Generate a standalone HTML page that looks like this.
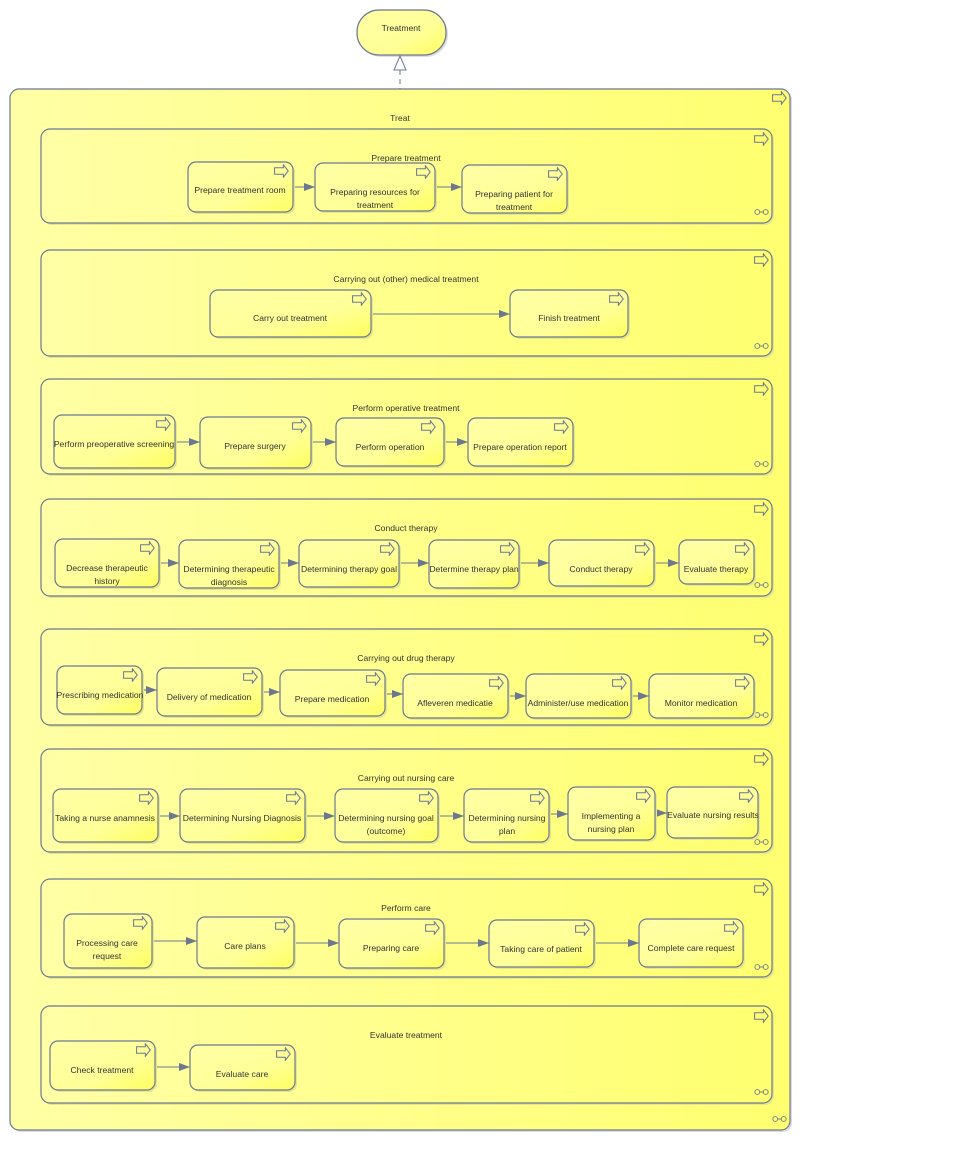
<!DOCTYPE html>
<html><head><meta charset="utf-8"><style>
html,body{margin:0;padding:0;background:#fff;}
svg{display:block;}
text{font-family:"Liberation Sans",sans-serif;font-size:8.6px;fill:#333;text-anchor:middle;}
.b{stroke:#6b7890;stroke-width:1.2;}
.c{stroke:#6b7890;stroke-width:1.1;fill:none;}
.i{fill:none;stroke:#6b7890;stroke-width:1.2;}
</style></head><body>
<svg width="955" height="1169" viewBox="0 0 955 1169" xmlns="http://www.w3.org/2000/svg">
<defs>
<linearGradient id="g" x1="0" y1="0" x2="1" y2="0"><stop offset="0" stop-color="#ffffa6"/><stop offset="1" stop-color="#ffff70"/></linearGradient>
<linearGradient id="n" x1="0" y1="0" x2="1" y2="1"><stop offset="0" stop-color="#ffffa6"/><stop offset="0.6" stop-color="#ffff98"/><stop offset="1" stop-color="#ffff60"/></linearGradient>
<marker id="a" markerWidth="12" markerHeight="10" refX="11" refY="4" orient="auto" markerUnits="userSpaceOnUse"><path d="M0,0 L11,4 L0,8 Z" fill="#6b7890"/></marker>
<symbol id="p" viewBox="0 0 16 15"><path d="M0.6,4 H10 V0.8 L15.2,7.5 L10,14.2 V11 H0.6 Z" fill="none" stroke="#6b7890" stroke-width="1.1"/></symbol>
<symbol id="s" viewBox="0 0 16 8"><circle cx="3.5" cy="4" r="2.6" fill="none" stroke="#6b7890" stroke-width="1"/><circle cx="12.5" cy="4" r="2.6" fill="none" stroke="#6b7890" stroke-width="1"/><line x1="6" y1="4" x2="10" y2="4" stroke="#6b7890" stroke-width="1"/></symbol>
</defs>

<!-- Treatment -->
<rect x="359" y="12" width="89" height="45" rx="22" fill="#ddd"/>
<rect x="357" y="10" width="89" height="45" rx="22" fill="url(#n)" class="b"/>
<text x="401" y="31">Treatment</text>
<line x1="400" y1="70" x2="400" y2="89" stroke="#6b7890" stroke-width="1" stroke-dasharray="5,4"/>
<path d="M394,70 L400,56 L406,70 Z" fill="#fff" stroke="#6b7890" stroke-width="1"/>

<!-- Outer -->
<rect x="12" y="91" width="780" height="1041" rx="9" fill="#ddd"/>
<rect x="10" y="89" width="780" height="1041" rx="9" fill="url(#g)" class="b"/>
<text x="400" y="121">Treat</text>
<use href="#p" x="772" y="91" width="15" height="14"/>
<use href="#s" x="772" y="1115" width="15" height="8"/>

<!-- Groups -->
<g>
<rect x="43" y="131" width="731" height="94" rx="9" fill="#e6e68a"/>
<rect x="41" y="129" width="731" height="94" rx="9" fill="url(#g)" class="b"/>
<text x="406" y="161">Prepare treatment</text>
<use href="#p" x="754" y="132" width="15" height="14"/><use href="#s" x="754" y="208" width="15" height="8"/>

<rect x="43" y="252" width="731" height="106" rx="9" fill="#e6e68a"/>
<rect x="41" y="250" width="731" height="106" rx="9" fill="url(#g)" class="b"/>
<text x="406" y="282">Carrying out (other) medical treatment</text>
<use href="#p" x="754" y="253" width="15" height="14"/><use href="#s" x="754" y="342" width="15" height="8"/>

<rect x="43" y="381" width="731" height="95" rx="9" fill="#e6e68a"/>
<rect x="41" y="379" width="731" height="95" rx="9" fill="url(#g)" class="b"/>
<text x="406" y="411">Perform operative treatment</text>
<use href="#p" x="754" y="382" width="15" height="14"/><use href="#s" x="754" y="460" width="15" height="8"/>

<rect x="43" y="501" width="731" height="97" rx="9" fill="#e6e68a"/>
<rect x="41" y="499" width="731" height="97" rx="9" fill="url(#g)" class="b"/>
<text x="406" y="531">Conduct therapy</text>
<use href="#p" x="754" y="502" width="15" height="14"/><use href="#s" x="754" y="581" width="15" height="8"/>

<rect x="43" y="631" width="731" height="96" rx="9" fill="#e6e68a"/>
<rect x="41" y="629" width="731" height="96" rx="9" fill="url(#g)" class="b"/>
<text x="406" y="661">Carrying out drug therapy</text>
<use href="#p" x="754" y="632" width="15" height="14"/><use href="#s" x="754" y="711" width="15" height="8"/>

<rect x="43" y="751" width="731" height="103" rx="9" fill="#e6e68a"/>
<rect x="41" y="749" width="731" height="103" rx="9" fill="url(#g)" class="b"/>
<text x="406" y="781">Carrying out nursing care</text>
<use href="#p" x="754" y="752" width="15" height="14"/><use href="#s" x="754" y="838" width="15" height="8"/>

<rect x="43" y="881" width="731" height="98" rx="9" fill="#e6e68a"/>
<rect x="41" y="879" width="731" height="98" rx="9" fill="url(#g)" class="b"/>
<text x="406" y="911">Perform care</text>
<use href="#p" x="754" y="882" width="15" height="14"/><use href="#s" x="754" y="963" width="15" height="8"/>

<rect x="43" y="1008" width="731" height="97" rx="9" fill="#e6e68a"/>
<rect x="41" y="1006" width="731" height="97" rx="9" fill="url(#g)" class="b"/>
<text x="406" y="1038">Evaluate treatment</text>
<use href="#p" x="754" y="1009" width="15" height="14"/><use href="#s" x="754" y="1088" width="15" height="8"/>
</g>

<!-- Connectors -->
<g class="c">
<line x1="293" y1="187" x2="315" y2="187" marker-end="url(#a)"/>
<line x1="435" y1="187" x2="462" y2="187" marker-end="url(#a)"/>
<line x1="371" y1="314" x2="510" y2="314" marker-end="url(#a)"/>
<line x1="175" y1="442" x2="200" y2="442" marker-end="url(#a)"/>
<line x1="311" y1="442" x2="336" y2="442" marker-end="url(#a)"/>
<line x1="444" y1="442" x2="468" y2="442" marker-end="url(#a)"/>
<line x1="159" y1="563" x2="179" y2="563" marker-end="url(#a)"/>
<line x1="279" y1="563" x2="299" y2="563" marker-end="url(#a)"/>
<line x1="399" y1="563" x2="429" y2="563" marker-end="url(#a)"/>
<line x1="519" y1="563" x2="549" y2="563" marker-end="url(#a)"/>
<line x1="654" y1="563" x2="679" y2="563" marker-end="url(#a)"/>
<line x1="142" y1="690" x2="157" y2="690" marker-end="url(#a)"/>
<line x1="262" y1="692" x2="280" y2="692" marker-end="url(#a)"/>
<line x1="385" y1="694" x2="403" y2="694" marker-end="url(#a)"/>
<line x1="508" y1="696" x2="526" y2="696" marker-end="url(#a)"/>
<line x1="631" y1="696" x2="649" y2="696" marker-end="url(#a)"/>
<line x1="158" y1="816" x2="180" y2="816" marker-end="url(#a)"/>
<line x1="305" y1="816" x2="335" y2="816" marker-end="url(#a)"/>
<line x1="438" y1="816" x2="464" y2="816" marker-end="url(#a)"/>
<line x1="549" y1="814" x2="568" y2="814" marker-end="url(#a)"/>
<line x1="655" y1="813" x2="667" y2="813" marker-end="url(#a)"/>
<line x1="152" y1="941" x2="197" y2="941" marker-end="url(#a)"/>
<line x1="294" y1="943" x2="339" y2="943" marker-end="url(#a)"/>
<line x1="444" y1="943" x2="489" y2="943" marker-end="url(#a)"/>
<line x1="594" y1="943" x2="639" y2="943" marker-end="url(#a)"/>
<line x1="155" y1="1067" x2="190" y2="1067" marker-end="url(#a)"/>
</g>

<!-- Nodes -->
<g id="nodes">
<!-- row1 -->
<rect x="190" y="164" width="105" height="50" rx="8" fill="#e6e68a"/><rect x="188" y="162" width="105" height="50" rx="8" fill="url(#n)" class="b"/><use href="#p" x="274" y="164" width="15" height="14"/>
<text x="240" y="193">Prepare treatment room</text>
<rect x="317" y="165" width="120" height="48" rx="8" fill="#e6e68a"/><rect x="315" y="163" width="120" height="48" rx="8" fill="url(#n)" class="b"/><use href="#p" x="416" y="165" width="15" height="14"/>
<text x="375" y="195">Preparing resources for</text><text x="375" y="208">treatment</text>
<rect x="464" y="167" width="105" height="48" rx="8" fill="#e6e68a"/><rect x="462" y="165" width="105" height="48" rx="8" fill="url(#n)" class="b"/><use href="#p" x="548" y="167" width="15" height="14"/>
<text x="514" y="197">Preparing patient for</text><text x="514" y="210">treatment</text>
<!-- row2 -->
<rect x="212" y="292" width="161" height="47" rx="8" fill="#e6e68a"/><rect x="210" y="290" width="161" height="47" rx="8" fill="url(#n)" class="b"/><use href="#p" x="352" y="292" width="15" height="14"/>
<text x="290" y="321">Carry out treatment</text>
<rect x="512" y="292" width="118" height="47" rx="8" fill="#e6e68a"/><rect x="510" y="290" width="118" height="47" rx="8" fill="url(#n)" class="b"/><use href="#p" x="609" y="292" width="15" height="14"/>
<text x="569" y="321">Finish treatment</text>
<!-- row3 -->
<rect x="56" y="417" width="121" height="53" rx="8" fill="#e6e68a"/><rect x="54" y="415" width="121" height="53" rx="8" fill="url(#n)" class="b"/><use href="#p" x="156" y="417" width="15" height="14"/>
<text x="114" y="447">Perform preoperative screening</text>
<rect x="202" y="419" width="111" height="51" rx="8" fill="#e6e68a"/><rect x="200" y="417" width="111" height="51" rx="8" fill="url(#n)" class="b"/><use href="#p" x="292" y="419" width="15" height="14"/>
<text x="255" y="449">Prepare surgery</text>
<rect x="338" y="420" width="108" height="48" rx="8" fill="#e6e68a"/><rect x="336" y="418" width="108" height="48" rx="8" fill="url(#n)" class="b"/><use href="#p" x="421" y="420" width="15" height="14"/>
<text x="390" y="450">Perform operation</text>
<rect x="470" y="420" width="105" height="48" rx="8" fill="#e6e68a"/><rect x="468" y="418" width="105" height="48" rx="8" fill="url(#n)" class="b"/><use href="#p" x="554" y="420" width="15" height="14"/>
<text x="520" y="450">Prepare operation report</text>
<!-- row4 -->
<rect x="57" y="541" width="104" height="48" rx="8" fill="#e6e68a"/><rect x="55" y="539" width="104" height="48" rx="8" fill="url(#n)" class="b"/><use href="#p" x="140" y="541" width="15" height="14"/>
<text x="107" y="571">Decrease therapeutic</text><text x="107" y="584">history</text>
<rect x="181" y="542" width="100" height="48" rx="8" fill="#e6e68a"/><rect x="179" y="540" width="100" height="48" rx="8" fill="url(#n)" class="b"/><use href="#p" x="260" y="542" width="15" height="14"/>
<text x="229" y="572">Determining therapeutic</text><text x="229" y="585">diagnosis</text>
<rect x="301" y="542" width="100" height="47" rx="8" fill="#e6e68a"/><rect x="299" y="540" width="100" height="47" rx="8" fill="url(#n)" class="b"/><use href="#p" x="380" y="542" width="15" height="14"/>
<text x="349" y="572">Determining therapy goal</text>
<rect x="431" y="542" width="90" height="48" rx="8" fill="#e6e68a"/><rect x="429" y="540" width="90" height="48" rx="8" fill="url(#n)" class="b"/><use href="#p" x="500" y="542" width="15" height="14"/>
<text x="474" y="572">Determine therapy plan</text>
<rect x="551" y="542" width="105" height="46" rx="8" fill="#e6e68a"/><rect x="549" y="540" width="105" height="46" rx="8" fill="url(#n)" class="b"/><use href="#p" x="635" y="542" width="15" height="14"/>
<text x="601" y="572">Conduct therapy</text>
<rect x="681" y="542" width="75" height="44" rx="8" fill="#e6e68a"/><rect x="679" y="540" width="75" height="44" rx="8" fill="url(#n)" class="b"/><use href="#p" x="735" y="542" width="15" height="14"/>
<text x="716" y="572">Evaluate therapy</text>
<!-- row5 -->
<rect x="59" y="668" width="85" height="48" rx="8" fill="#e6e68a"/><rect x="57" y="666" width="85" height="48" rx="8" fill="url(#n)" class="b"/><use href="#p" x="123" y="668" width="15" height="14"/>
<text x="100" y="698">Prescribing medication</text>
<rect x="159" y="670" width="105" height="48" rx="8" fill="#e6e68a"/><rect x="157" y="668" width="105" height="48" rx="8" fill="url(#n)" class="b"/><use href="#p" x="243" y="670" width="15" height="14"/>
<text x="209" y="700">Delivery of medication</text>
<rect x="282" y="672" width="105" height="46" rx="8" fill="#e6e68a"/><rect x="280" y="670" width="105" height="46" rx="8" fill="url(#n)" class="b"/><use href="#p" x="366" y="672" width="15" height="14"/>
<text x="332" y="702">Prepare medication</text>
<rect x="405" y="676" width="105" height="44" rx="8" fill="#e6e68a"/><rect x="403" y="674" width="105" height="44" rx="8" fill="url(#n)" class="b"/><use href="#p" x="489" y="676" width="15" height="14"/>
<text x="455" y="706">Afleveren medicatie</text>
<rect x="528" y="676" width="105" height="44" rx="8" fill="#e6e68a"/><rect x="526" y="674" width="105" height="44" rx="8" fill="url(#n)" class="b"/><use href="#p" x="612" y="676" width="15" height="14"/>
<text x="578" y="706">Administer/use medication</text>
<rect x="651" y="676" width="105" height="44" rx="8" fill="#e6e68a"/><rect x="649" y="674" width="105" height="44" rx="8" fill="url(#n)" class="b"/><use href="#p" x="735" y="676" width="15" height="14"/>
<text x="701" y="706">Monitor medication</text>
<!-- row6 -->
<rect x="55" y="791" width="105" height="53" rx="8" fill="#e6e68a"/><rect x="53" y="789" width="105" height="53" rx="8" fill="url(#n)" class="b"/><use href="#p" x="139" y="791" width="15" height="14"/>
<text x="105" y="821">Taking a nurse anamnesis</text>
<rect x="182" y="791" width="125" height="53" rx="8" fill="#e6e68a"/><rect x="180" y="789" width="125" height="53" rx="8" fill="url(#n)" class="b"/><use href="#p" x="286" y="791" width="15" height="14"/>
<text x="242" y="821">Determining Nursing Diagnosis</text>
<rect x="337" y="791" width="103" height="53" rx="8" fill="#e6e68a"/><rect x="335" y="789" width="103" height="53" rx="8" fill="url(#n)" class="b"/><use href="#p" x="419" y="791" width="15" height="14"/>
<text x="386" y="821">Determining nursing goal</text><text x="386" y="834">(outcome)</text>
<rect x="466" y="791" width="85" height="53" rx="8" fill="#e6e68a"/><rect x="464" y="789" width="85" height="53" rx="8" fill="url(#n)" class="b"/><use href="#p" x="530" y="791" width="15" height="14"/>
<text x="507" y="821">Determining nursing</text><text x="507" y="834">plan</text>
<rect x="570" y="789" width="87" height="53" rx="8" fill="#e6e68a"/><rect x="568" y="787" width="87" height="53" rx="8" fill="url(#n)" class="b"/><use href="#p" x="636" y="789" width="15" height="14"/>
<text x="611" y="819">Implementing a</text><text x="611" y="832">nursing plan</text>
<rect x="669" y="789" width="91" height="51" rx="8" fill="#e6e68a"/><rect x="667" y="787" width="91" height="51" rx="8" fill="url(#n)" class="b"/><use href="#p" x="739" y="789" width="15" height="14"/>
<text x="713" y="818">Evaluate nursing results</text>
<!-- row7 -->
<rect x="66" y="916" width="88" height="54" rx="8" fill="#e6e68a"/><rect x="64" y="914" width="88" height="54" rx="8" fill="url(#n)" class="b"/><use href="#p" x="133" y="916" width="15" height="14"/>
<text x="107" y="946">Processing care</text><text x="107" y="959">request</text>
<rect x="199" y="919" width="97" height="51" rx="8" fill="#e6e68a"/><rect x="197" y="917" width="97" height="51" rx="8" fill="url(#n)" class="b"/><use href="#p" x="275" y="919" width="15" height="14"/>
<text x="245" y="949">Care plans</text>
<rect x="341" y="921" width="105" height="49" rx="8" fill="#e6e68a"/><rect x="339" y="919" width="105" height="49" rx="8" fill="url(#n)" class="b"/><use href="#p" x="425" y="921" width="15" height="14"/>
<text x="391" y="951">Preparing care</text>
<rect x="491" y="922" width="105" height="47" rx="8" fill="#e6e68a"/><rect x="489" y="920" width="105" height="47" rx="8" fill="url(#n)" class="b"/><use href="#p" x="575" y="922" width="15" height="14"/>
<text x="541" y="952">Taking care of patient</text>
<rect x="641" y="921" width="104" height="48" rx="8" fill="#e6e68a"/><rect x="639" y="919" width="104" height="48" rx="8" fill="url(#n)" class="b"/><use href="#p" x="724" y="921" width="15" height="14"/>
<text x="691" y="951">Complete care request</text>
<!-- row8 -->
<rect x="52" y="1043" width="105" height="49" rx="8" fill="#e6e68a"/><rect x="50" y="1041" width="105" height="49" rx="8" fill="url(#n)" class="b"/><use href="#p" x="136" y="1043" width="15" height="14"/>
<text x="102" y="1073">Check treatment</text>
<rect x="192" y="1047" width="105" height="45" rx="8" fill="#e6e68a"/><rect x="190" y="1045" width="105" height="45" rx="8" fill="url(#n)" class="b"/><use href="#p" x="276" y="1047" width="15" height="14"/>
<text x="242" y="1077">Evaluate care</text>
</g>
</svg>
</body></html>
